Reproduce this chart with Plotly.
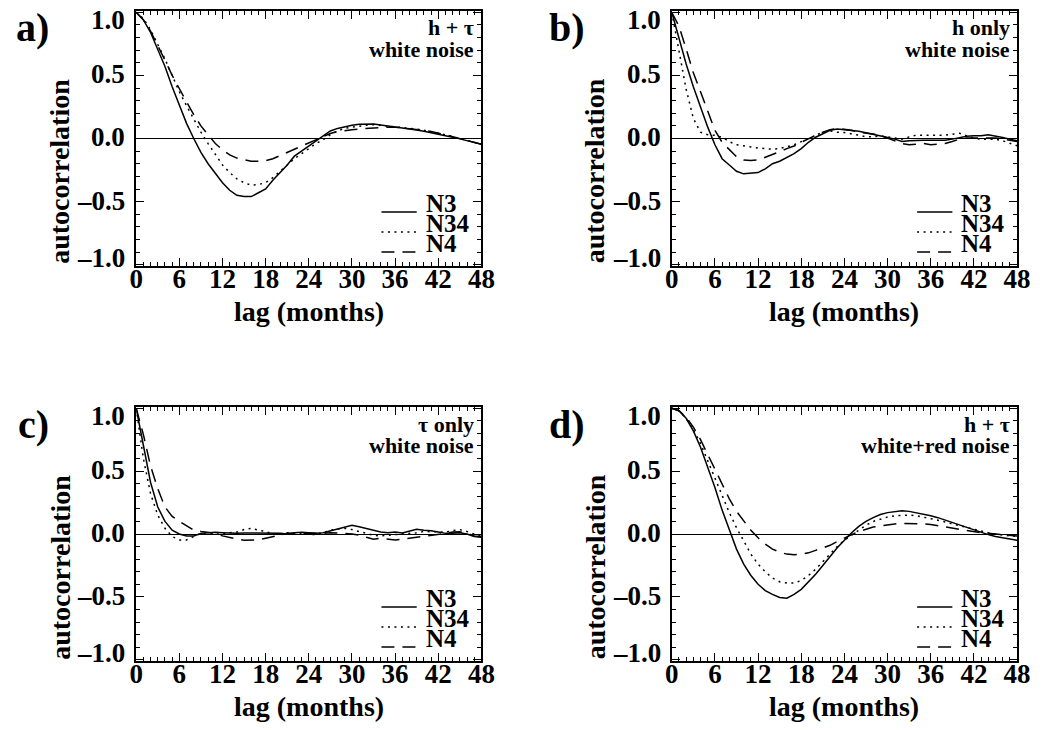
import plotly.graph_objects as go

W, H = 1048, 730          # reference picture size
PAD = 8                   # default page margin of the html body
FW, FH = W - PAD, H - PAD  # figure size so that the page fits the window
FONT = "Liberation Serif, Times New Roman, Times, serif"

# ---------------- data ----------------
months = list(range(49))
series_names = ["N3", "N34", "N4"]
x_tick_vals = [0, 6, 12, 18, 24, 30, 36, 42, 48]
y_tick_vals = [-1.0, -0.5, 0.0, 0.5, 1.0]
y_tick_labels = ["\u20131.0", "\u20130.5", "0.0", "0.5", "1.0"]
panel_letters = ["a)", "b)", "c)", "d)"]
panel_line1 = ["h + \u03c4", "h only", "\u03c4 only", "h + \u03c4"]
panel_line2 = ["white noise", "white noise", "white noise", "white+red noise"]
x_title = "lag (months)"
y_title = "autocorrelation"

a_n3 = [1.00, 0.94, 0.84, 0.71, 0.57, 0.41, 0.26, 0.12, 0.00, -0.11, -0.20, -0.28, -0.35, -0.41,
        -0.45, -0.46, -0.46, -0.43, -0.40, -0.33, -0.27, -0.21, -0.14, -0.10, -0.06, -0.02, 0.02,
        0.06, 0.08, 0.095, 0.105, 0.113, 0.115, 0.115, 0.107, 0.10, 0.092, 0.084, 0.076, 0.068,
        0.058, 0.047, 0.037, 0.024, 0.01, -0.003, -0.016, -0.029, -0.045]
a_n34 = [1.00, 0.95, 0.86, 0.75, 0.63, 0.50, 0.37, 0.26, 0.15, 0.05, -0.04, -0.13, -0.21, -0.27,
         -0.32, -0.35, -0.37, -0.365, -0.35, -0.31, -0.26, -0.21, -0.16, -0.12, -0.08, -0.04, -0.01,
         0.03, 0.06, 0.08, 0.09, 0.10, 0.105, 0.11, 0.105, 0.10, 0.095, 0.09, 0.085, 0.075, 0.065,
         0.055, 0.045, 0.03, 0.015, 0.0, -0.015, -0.03, -0.045]
a_n4 = [1.00, 0.94, 0.85, 0.74, 0.62, 0.50, 0.39, 0.29, 0.19, 0.10, 0.03, -0.04, -0.09, -0.13,
        -0.155, -0.17, -0.18, -0.18, -0.175, -0.16, -0.135, -0.11, -0.085, -0.06, -0.035, -0.01,
        0.015, 0.04, 0.055, 0.065, 0.07, 0.075, 0.08, 0.085, 0.09, 0.09, 0.09, 0.085, 0.08, 0.075,
        0.065, 0.055, 0.045, 0.03, 0.015, 0.0, -0.015, -0.03, -0.045]

b_n3 = [1.00, 0.79, 0.59, 0.41, 0.25, 0.09, -0.05, -0.16, -0.21, -0.26, -0.28, -0.275, -0.27,
        -0.24, -0.20, -0.18, -0.15, -0.12, -0.08, -0.03, 0.01, 0.04, 0.065, 0.075, 0.07, 0.066,
        0.058, 0.045, 0.034, 0.024, 0.008, -0.005, -0.024, -0.018, -0.013, -0.013, -0.013, -0.013,
        -0.013, -0.005, 0.008, 0.018, 0.021, 0.021, 0.029, 0.021, 0.008, -0.005, -0.018]
b_n34 = [1.00, 0.71, 0.39, 0.16, 0.05, 0.03, 0.025, 0.01, -0.025, -0.05, -0.06, -0.065, -0.075,
         -0.08, -0.085, -0.08, -0.065, -0.05, -0.025, 0.0, 0.03, 0.05, 0.06, 0.05, 0.047, 0.039,
         0.026, 0.013, 0.013, 0.021, 0.013, 0.003, -0.005, 0.013, 0.026, 0.026, 0.026, 0.021,
         0.026, 0.034, 0.042, 0.021, 0.003, -0.005, -0.005, -0.005, -0.018, -0.04, -0.058]
b_n4 = [1.00, 0.89, 0.71, 0.52, 0.37, 0.21, 0.065, -0.03, -0.09, -0.145, -0.17, -0.175, -0.17,
        -0.15, -0.13, -0.105, -0.08, -0.06, -0.03, 0.0, 0.025, 0.05, 0.07, 0.08, 0.075, 0.065,
        0.05, 0.045, 0.035, 0.025, 0.003, -0.018, -0.04, -0.05, -0.045, -0.04, -0.05, -0.045,
        -0.04, -0.024, -0.005, 0.003, 0.003, 0.003, 0.008, 0.003, -0.005, -0.013, -0.024]

c_n3 = [1.00, 0.69, 0.41, 0.215, 0.10, 0.03, 0.0, -0.015, -0.015, 0.005, 0.01, 0.013, 0.01,
        0.005, 0.005, 0.008, 0.008, 0.01, 0.008, 0.005, 0.005, 0.0, 0.01, 0.013, 0.008, 0.005,
        0.01, 0.026, 0.037, 0.058, 0.07, 0.058, 0.045, 0.026, 0.016, 0.01, 0.016, 0.008, 0.02,
        0.037, 0.03, 0.026, 0.016, 0.005, 0.005, 0.01, 0.0, -0.02, -0.026]
c_n34 = [1.00, 0.60, 0.32, 0.15, 0.045, -0.02, -0.047, -0.047, -0.02, 0.005, 0.0, 0.0, 0.0, 0.01,
         0.015, 0.035, 0.045, 0.03, 0.02, 0.0, 0.0, 0.01, 0.01, 0.0, -0.005, -0.005, 0.01, 0.03,
         0.04, 0.045, 0.035, 0.02, 0.005, -0.01, -0.015, -0.01, -0.005, 0.0, 0.0, 0.01, 0.02,
         0.02, 0.02, 0.015, 0.026, 0.035, 0.02, 0.0, -0.02]
c_n4 = [1.00, 0.79, 0.54, 0.36, 0.215, 0.14, 0.10, 0.065, 0.03, 0.02, 0.01, 0.005, -0.015, -0.03,
        -0.04, -0.05, -0.05, -0.047, -0.034, -0.02, -0.008, 0.005, 0.005, 0.005, 0.005, 0.0,
        0.005, 0.01, 0.01, 0.005, 0.0, -0.008, -0.026, -0.042, -0.034, -0.042, -0.047, -0.042,
        -0.034, -0.026, -0.02, -0.015, -0.005, 0.005, 0.016, 0.018, 0.005, -0.016, -0.02]

d_n3 = [1.00, 0.98, 0.92, 0.82, 0.69, 0.53, 0.37, 0.19, 0.03, -0.12, -0.24, -0.33, -0.40, -0.45,
        -0.48, -0.505, -0.51, -0.48, -0.44, -0.38, -0.32, -0.25, -0.18, -0.11, -0.05, 0.01, 0.06,
        0.10, 0.13, 0.155, 0.17, 0.18, 0.185, 0.18, 0.17, 0.16, 0.145, 0.13, 0.11, 0.09, 0.07,
        0.05, 0.03, 0.01, -0.005, -0.02, -0.03, -0.04, -0.05]
d_n34 = [1.00, 0.98, 0.92, 0.83, 0.72, 0.58, 0.44, 0.30, 0.17, 0.05, -0.06, -0.16, -0.24, -0.30,
         -0.35, -0.38, -0.39, -0.39, -0.37, -0.33, -0.28, -0.22, -0.16, -0.10, -0.05, -0.01, 0.03,
         0.07, 0.10, 0.12, 0.135, 0.145, 0.15, 0.15, 0.145, 0.135, 0.125, 0.11, 0.095, 0.08,
         0.065, 0.05, 0.035, 0.02, 0.01, 0.0, -0.01, -0.015, -0.02]
d_n4 = [1.00, 0.98, 0.93, 0.85, 0.75, 0.63, 0.51, 0.39, 0.28, 0.18, 0.10, 0.03, -0.03, -0.08,
        -0.12, -0.145, -0.16, -0.165, -0.16, -0.15, -0.13, -0.11, -0.09, -0.06, -0.03, -0.005,
        0.02, 0.04, 0.055, 0.065, 0.075, 0.08, 0.085, 0.085, 0.085, 0.08, 0.075, 0.065, 0.055,
        0.045, 0.035, 0.025, 0.015, 0.01, 0.005, 0.0, -0.005, -0.01, -0.015]

panel_data = [[a_n3, a_n34, a_n4], [b_n3, b_n34, b_n4], [c_n3, c_n34, c_n4], [d_n3, d_n34, d_n4]]

# ---------------- layout geometry (pixels in the reference picture) ----------------
frames = [(131.7, 484.0, 11.0, 266.0), (678.3, 1030.7, 11.0, 266.0),
          (131.7, 484.0, 407.0, 661.0), (678.3, 1030.7, 407.0, 661.0)]
dashes = ["solid", "2px,4.5px", "13px,8px"]
LW = 1.5
TICK_FS = 27


def fx(p):
    return (p - PAD) / FW


def fy(p):
    return 1 - (p - PAD) / FH


def bold(size):
    return dict(family=FONT, size=size, color="black", weight="bold")


fig = go.Figure()
layout = dict(width=FW, height=FH, margin=dict(l=0, r=0, t=0, b=0),
              paper_bgcolor="white", plot_bgcolor="white", showlegend=False)
annotations = []
shapes = []

for i, (x0, x1, y0, y1) in enumerate(frames):
    k = "" if i == 0 else str(i + 1)
    xa, ya = "xaxis" + k, "yaxis" + k
    xr, yr = "x" + k, "y" + k
    for j, name in enumerate(series_names):
        fig.add_trace(go.Scatter(x=months, y=panel_data[i][j], mode="lines", name=name,
                                 xaxis=xr, yaxis=yr, hoverinfo="skip",
                                 line=dict(color="black", width=LW, dash=dashes[j])))
    layout[xa] = dict(domain=[fx(x0), fx(x1)], range=[0, 48], anchor=yr,
                      showline=True, linecolor="black", linewidth=2, mirror="ticks",
                      ticks="inside", ticklen=8, tickwidth=1.3, tickcolor="black",
                      tickvals=x_tick_vals, showgrid=False, zeroline=False,
                      tickfont=bold(TICK_FS), ticklabelstandoff=-12,
                      minor=dict(dtick=1, tick0=0, ticks="inside", ticklen=4, tickwidth=1,
                                 tickcolor="black", showgrid=False))
    layout[ya] = dict(domain=[fy(y1), fy(y0)], range=[-1.01, 1.01], anchor=xr,
                      showline=True, linecolor="black", linewidth=2, mirror="ticks",
                      ticks="inside", ticklen=8, tickwidth=1.3, tickcolor="black",
                      tickvals=y_tick_vals, showticklabels=False, showgrid=False,
                      zeroline=True, zerolinecolor="black", zerolinewidth=1.4,
                      minor=dict(dtick=0.1, tick0=0, ticks="inside", ticklen=4, tickwidth=1,
                                 tickcolor="black", showgrid=False))

    # y tick labels (end labels pulled inward as in the original)
    for v, lab in zip(y_tick_vals, y_tick_labels):
        shift = -9 if v == 1.0 else (6 if v == -1.0 else 0)
        annotations.append(dict(x=fx(x0 - 9), xref="paper", y=v, yref=yr, text=lab,
                                showarrow=False, xanchor="right", yanchor="middle",
                                yshift=shift + 1, font=bold(TICK_FS)))
    # axis titles
    annotations.append(dict(x=fx((x0 + x1) / 2), y=fy(y1 + 45), xref="paper",
                            yref="paper", text=x_title, showarrow=False, xanchor="center",
                            yanchor="middle", font=bold(28)))
    annotations.append(dict(x=fx(x0 - 78), y=fy(y0 + 160), xref="paper", yref="paper",
                            text=y_title, textangle=-90, showarrow=False, xanchor="center",
                            yanchor="middle", font=bold(28)))
    # panel letter
    annotations.append(dict(x=fx(x0 - 87), y=fy(y0 + 17), xref="paper",
                            yref="paper", text=panel_letters[i], showarrow=False,
                            xanchor="right", yanchor="middle", font=bold(40)))
    # panel description
    annotations.append(dict(x=fx(x1 - 5), y=fy(y0 + 17), xref="paper",
                            yref="paper", text=panel_line1[i], showarrow=False,
                            xanchor="right", yanchor="middle", font=bold(22)))
    annotations.append(dict(x=fx(x1 - 5), y=fy(y0 + 38), xref="paper",
                            yref="paper", text=panel_line2[i], showarrow=False,
                            xanchor="right", yanchor="middle", font=bold(22)))
    # legend
    for j, name in enumerate(series_names):
        base = y1 - 54 + 20 * j
        shapes.append(dict(type="line", xref="paper", yref="paper",
                           x0=fx(x1 - 102), x1=fx(x1 - 66), y0=fy(base), y1=fy(base),
                           line=dict(color="black", width=LW, dash=dashes[j])))
        annotations.append(dict(x=fx(x1 - 59), y=fy(base - 0.34 * 25), xref="paper",
                                yref="paper", text=name, showarrow=False, xanchor="left",
                                yanchor="middle", font=bold(25)))

layout["annotations"] = annotations
layout["shapes"] = shapes
fig.update_layout(**layout)
fig.write_html("out.html")
